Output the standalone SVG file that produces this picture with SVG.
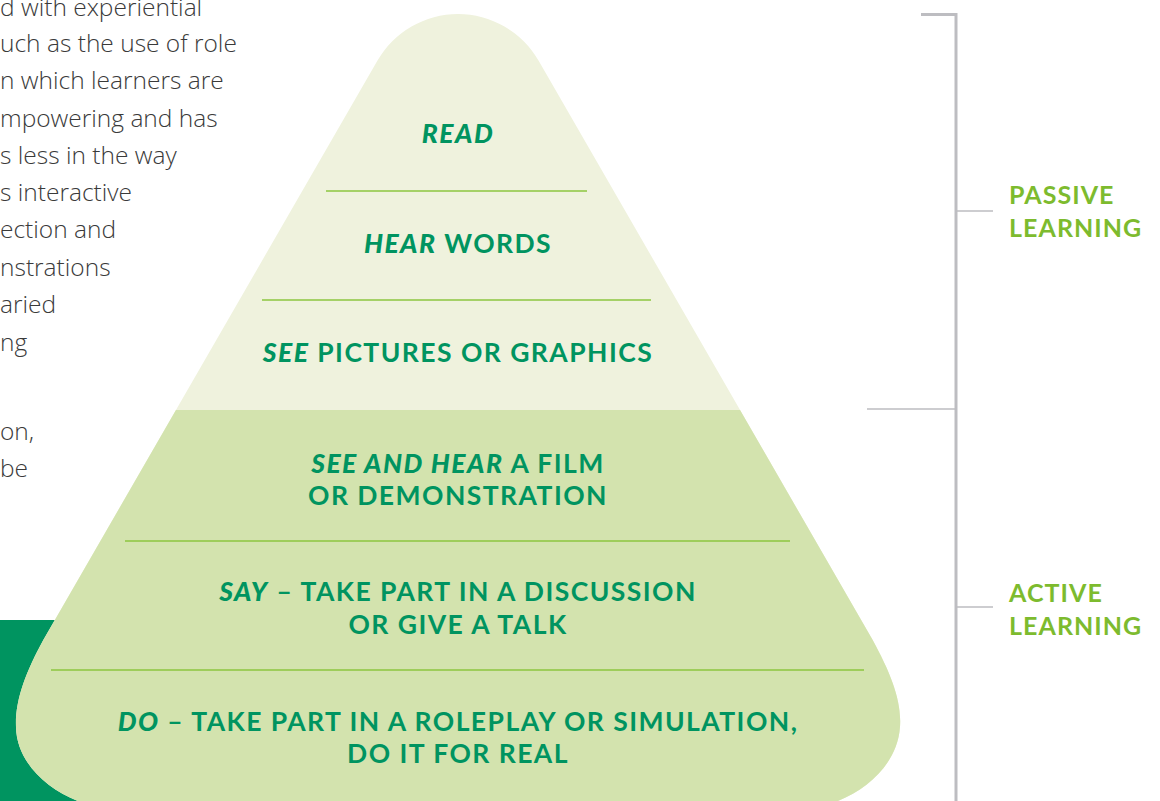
<svg xmlns="http://www.w3.org/2000/svg" width="1160" height="801" viewBox="0 0 1160 801">
<style>
.body{font-family:"Open Sans","Noto Sans",sans-serif;font-weight:300;font-size:24.5px;fill:#3a3a3a}
.lvl{font-family:Lato,"Open Sans",sans-serif;font-weight:700;font-size:26.5px;fill:#009460;letter-spacing:1.45px;text-anchor:middle}
.lvl .i{font-style:italic;font-weight:900}
.lab{font-family:Lato,"Open Sans",sans-serif;font-weight:700;font-size:25px;fill:#7dbb2e;letter-spacing:1.05px}
.sep{stroke:#8cc63f;stroke-width:1.5}
.br{stroke:#bdbdc1;fill:none}
</style>
<defs>
<path id="pyr" d="M377.5,60.5 A93,93 0 0 1 538.5,60.5 L872.7,640 C890,672 902,700 900,727 C897,772 850,806 800,810 L116,810 C66,806 17,772 16,727 C15,700 26,672 43.3,640 Z"/>
<clipPath id="low"><rect x="0" y="410" width="1160" height="400"/></clipPath>
</defs>
<g id="intro-text" class="body">
<text x="0" y="16">d with experiential</text>
<text x="0" y="52">uch as the use of role</text>
<text x="0" y="89">n which learners are</text>
<text x="0" y="127">mpowering and has</text>
<text x="0" y="164">s less in the way</text>
<text x="0" y="201">s interactive</text>
<text x="0" y="238">ection and</text>
<text x="0" y="276">nstrations</text>
<text x="0" y="313">aried</text>
<text x="0" y="351">ng</text>
<text x="0" y="440">on,</text>
<text x="0" y="477">be</text>
</g>
<rect id="green-box" x="0" y="620" width="220" height="181" fill="#009460"/>
<g id="pyramid">
<use href="#pyr" fill="#eff2dd"/>
<use href="#pyr" fill="#d3e3ae" clip-path="url(#low)"/>
</g>
<g id="connectors">
<line class="sep" x1="326" y1="191" x2="587" y2="191"/>
<line class="sep" x1="262" y1="300" x2="651" y2="300"/>
<line class="sep" x1="125" y1="541" x2="790" y2="541"/>
<line class="sep" x1="51" y1="670" x2="864" y2="670"/>
<path class="br" stroke-width="3" d="M921,14.5 H956 V801"/>
<line class="br" stroke-width="1.5" x1="956" y1="211" x2="993" y2="211"/>
<line class="br" stroke-width="1.5" x1="867" y1="409" x2="956" y2="409"/>
<line class="br" stroke-width="1.5" x1="956" y1="607" x2="993" y2="607"/>
</g>
<g id="level-read" class="lvl"><text x="458" y="143"><tspan class="i">READ</tspan></text></g>
<g id="level-hear" class="lvl"><text x="458" y="253"><tspan class="i">HEAR</tspan> WORDS</text></g>
<g id="level-see" class="lvl"><text x="458" y="362"><tspan class="i">SEE</tspan> PICTURES OR GRAPHICS</text></g>
<g id="level-seehear" class="lvl"><text x="458" y="473"><tspan class="i">SEE AND HEAR</tspan> A FILM<tspan x="458" y="505">OR DEMONSTRATION</tspan></text></g>
<g id="level-say" class="lvl"><text x="458" y="601"><tspan class="i">SAY</tspan> – TAKE PART IN A DISCUSSION<tspan x="458" y="634">OR GIVE A TALK</tspan></text></g>
<g id="level-do" class="lvl"><text x="458" y="731"><tspan class="i">DO</tspan> – TAKE PART IN A ROLEPLAY OR SIMULATION,<tspan x="458" y="763">DO IT FOR REAL</tspan></text></g>
<g id="label-passive" class="lab"><text x="1009" y="204">PASSIVE<tspan x="1009" y="237">LEARNING</tspan></text></g>
<g id="label-active" class="lab"><text x="1009" y="602">ACTIVE<tspan x="1009" y="635">LEARNING</tspan></text></g>
</svg>
